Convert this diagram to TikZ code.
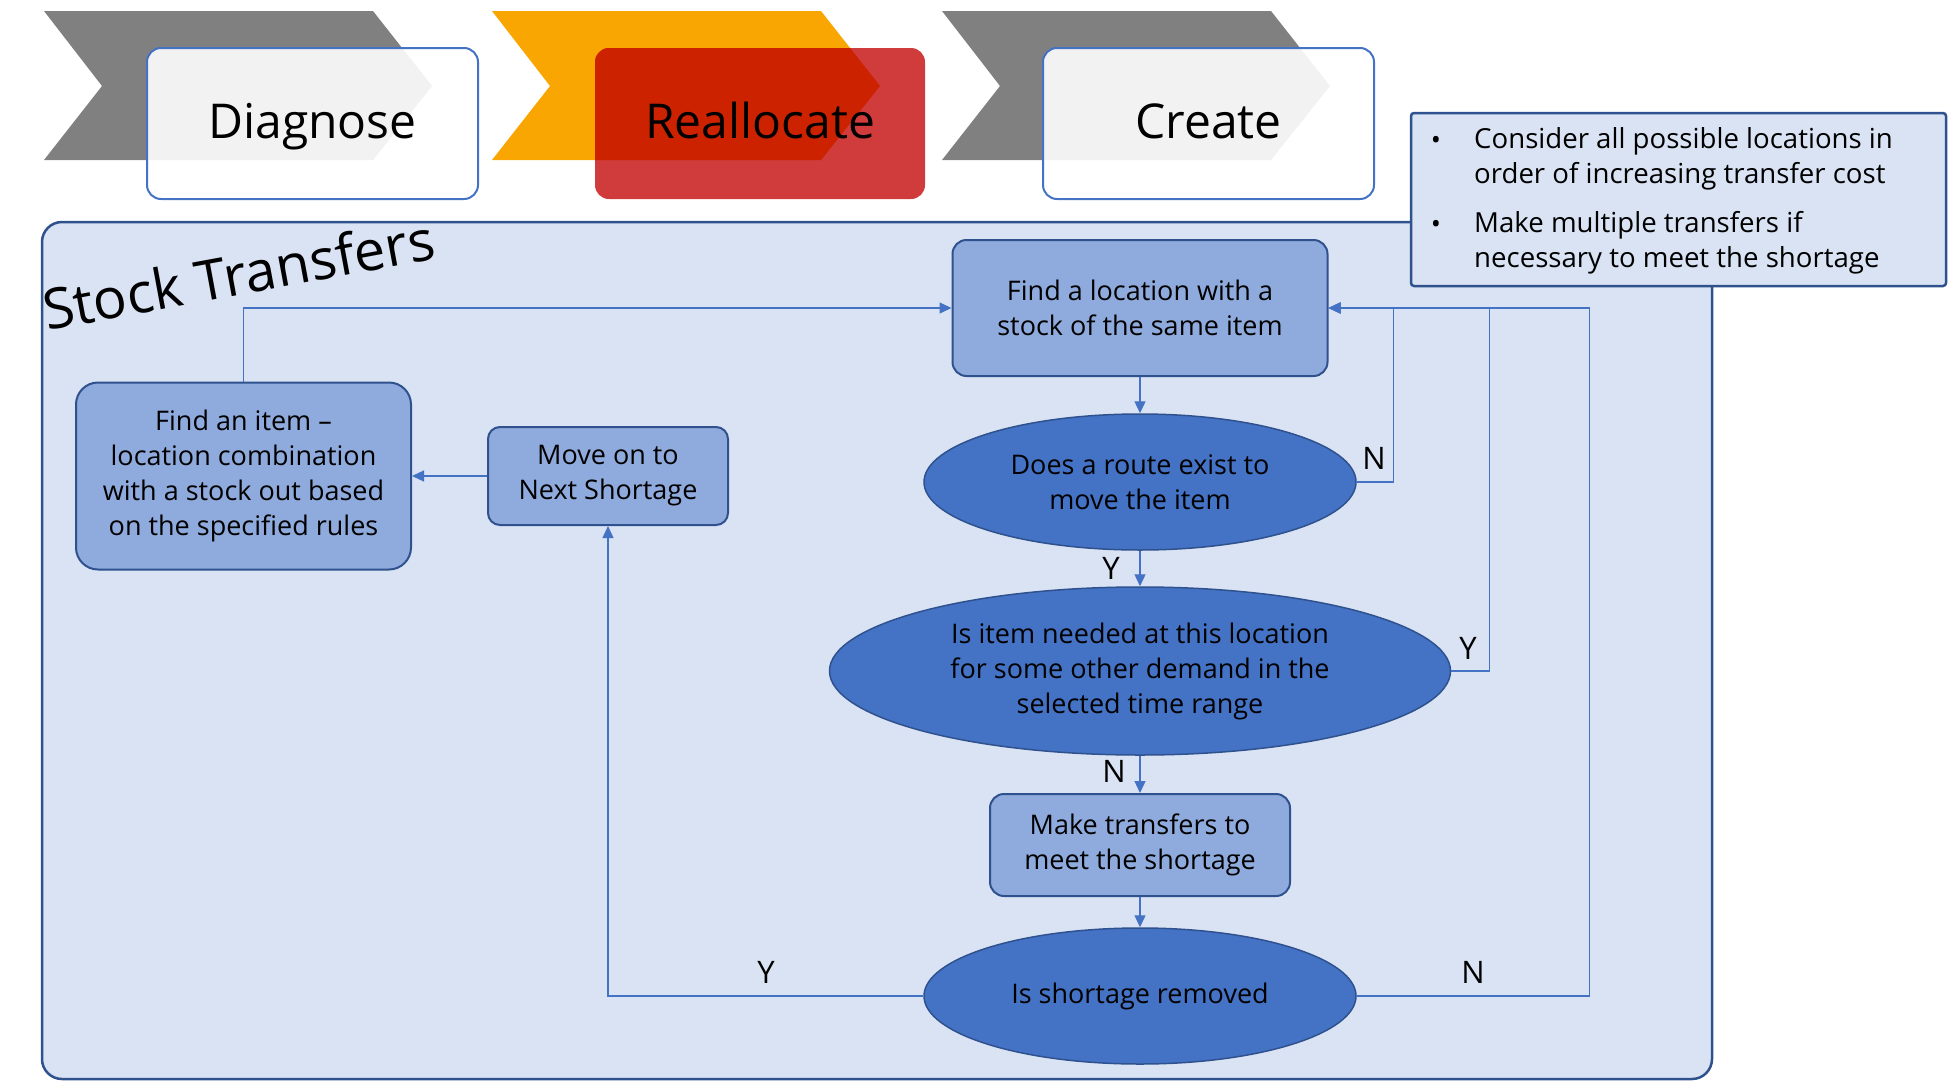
\documentclass[tikz,border=0pt]{standalone}
\usepackage{fontspec}
\setmainfont{Open Sans}
\usetikzlibrary{shapes.geometric,arrows.meta}
\definecolor{gray1}{HTML}{808080}
\definecolor{lightg}{HTML}{F2F2F2}
\definecolor{orng}{HTML}{F9A602}
\definecolor{redA}{HTML}{D03B3B}
\definecolor{redB}{HTML}{CC2200}
\definecolor{bgblue}{HTML}{DAE3F3}
\definecolor{dkblue}{HTML}{2F528F}
\definecolor{midblue}{HTML}{4472C4}
\definecolor{ltblue}{HTML}{8FAADC}
\newcommand{\nodefont}{\fontsize{27}{35}\selectfont}
\newcommand{\bulfont}{\fontsize{27.6}{35}\selectfont}
\newcommand{\hdrfont}{\fontsize{48}{58}\selectfont}
\newcommand{\labfont}{\fontsize{31}{36}\selectfont}
\tikzset{
  x=1pt,y=-1pt,
  box/.style={rectangle, rounded corners=14pt, fill=ltblue, draw=dkblue, line width=2pt, align=center, font=\nodefont, inner sep=0pt},
  ell/.style={ellipse, fill=midblue, draw=dkblue, line width=1.5pt, align=center, font=\nodefont, inner sep=0pt},
  conn/.style={draw=midblue, line width=1.3pt, -{Triangle[length=12pt,width=11pt]}},
  lab/.style={font=\labfont, inner sep=0pt},
  hdr/.style={rectangle, rounded corners=14pt, minimum width=331pt, minimum height=151pt, font=\hdrfont, inner sep=0pt, text height=35pt, text depth=6pt},
}
\newcommand{\chev}[1]{(#1,11) -- (#1+329,11) -- (#1+388,86) -- (#1+329,160) -- (#1,160) -- (#1+58,86) -- cycle}
\begin{document}
\begin{tikzpicture}
\useasboundingbox (0,0) rectangle (1957,1090);
% ---- header chevrons and boxes ----
\fill[gray1] \chev{44};
\fill[white, rounded corners=14pt] (147,48) rectangle (478,199);
\begin{scope}
  \clip \chev{44};
  \fill[lightg, rounded corners=14pt] (147,48) rectangle (478,199);
\end{scope}
\node[hdr, draw=midblue, line width=2pt] (diag) at (312.5,123.5) {Diagnose};

\fill[orng] \chev{492};
\fill[redA, rounded corners=14pt] (595,48) rectangle (925,199);
\begin{scope}
  \clip \chev{492};
  \fill[redB, rounded corners=14pt] (595,48) rectangle (925,199);
\end{scope}
\node[hdr, minimum width=330pt] (realloc) at (760,123.5) {Reallocate};

\fill[gray1] \chev{942};
\fill[white, rounded corners=14pt] (1043,48) rectangle (1374,199);
\begin{scope}
  \clip \chev{942};
  \fill[lightg, rounded corners=14pt] (1043,48) rectangle (1374,199);
\end{scope}
\node[hdr, draw=midblue, line width=2pt] (create) at (1208.5,123.5) {Create};

% ---- container ----
\draw[fill=bgblue, draw=dkblue, line width=2.5pt, rounded corners=20pt] (42,222) rectangle (1712,1079);
\node[font=\fontsize{56}{62}\selectfont, rotate=10.5, anchor=base west, inner sep=0pt] (title) at (47,331) {Stock Transfers};

% ---- callout ----
\draw[fill=bgblue, draw=dkblue, line width=2.5pt, rounded corners=3pt] (1411,113) rectangle (1946,286);
\node[font=\bulfont, anchor=west, align=left, inner sep=0pt] (b1) at (1474,159) {Consider all possible locations in\\order of increasing transfer cost};
\node[font=\bulfont, anchor=west, align=left, inner sep=0pt] (b2) at (1474,243) {Make multiple transfers if\\necessary to meet the shortage};
\node[font=\nodefont, inner sep=0pt] (d1) at (1436,143) {•};
\node[font=\nodefont, inner sep=0pt] (d2) at (1436,227) {•};

% ---- flowchart nodes ----
\node[box, minimum width=375pt, minimum height=136pt] (loc) at (1140,308) {Find a location with a\\stock of the same item};
\node[ell, minimum width=432pt, minimum height=136pt] (route) at (1140,482) {Does a route exist to\\move the item};
\node[ell, minimum width=621pt, minimum height=168pt] (need) at (1140,671) {Is item needed at this location\\for some other demand in the\\selected time range};
\node[box, minimum width=300pt, minimum height=102pt] (make) at (1140,845) {Make transfers to\\meet the shortage};
\node[ell, minimum width=432pt, minimum height=136pt] (rem) at (1140,996) {Is shortage removed};
\node[box, rounded corners=22pt, minimum width=335pt, minimum height=187pt] (item) at (243.5,476) {Find an item –\\location combination\\with a stock out based\\on the specified rules};
\node[box, rounded corners=12pt, minimum width=240pt, minimum height=98pt] (move) at (608,476) {Move on to\\Next Shortage};

% ---- connectors ----
\draw[conn] (item.north) |- (loc.west);
\draw[conn] (move.west) -- (item.east);
\draw[conn] (loc.south) -- (route.north);
\draw[conn] (route.east) -- ++(37,0) |- (loc.east);
\draw[conn] (route.south) -- (need.north);
\draw[conn] (need.east) -- ++(38,0) |- (loc.east);
\draw[conn] (need.south) -- (make.north);
\draw[conn] (make.south) -- (rem.north);
\draw[conn] (rem.west) -| (move.south);
\draw[conn] (rem.east) -- ++(233,0) |- (loc.east);

% ---- labels ----
\node[lab] (lN1) at (1374,458) {N};
\node[lab] (lY1) at (1111,568) {Y};
\node[lab] (lY2) at (1468,648) {Y};
\node[lab] (lN2) at (1114,771) {N};
\node[lab] (lY3) at (766,972) {Y};
\node[lab] (lN3) at (1473,972) {N};
\end{tikzpicture}
\end{document}
